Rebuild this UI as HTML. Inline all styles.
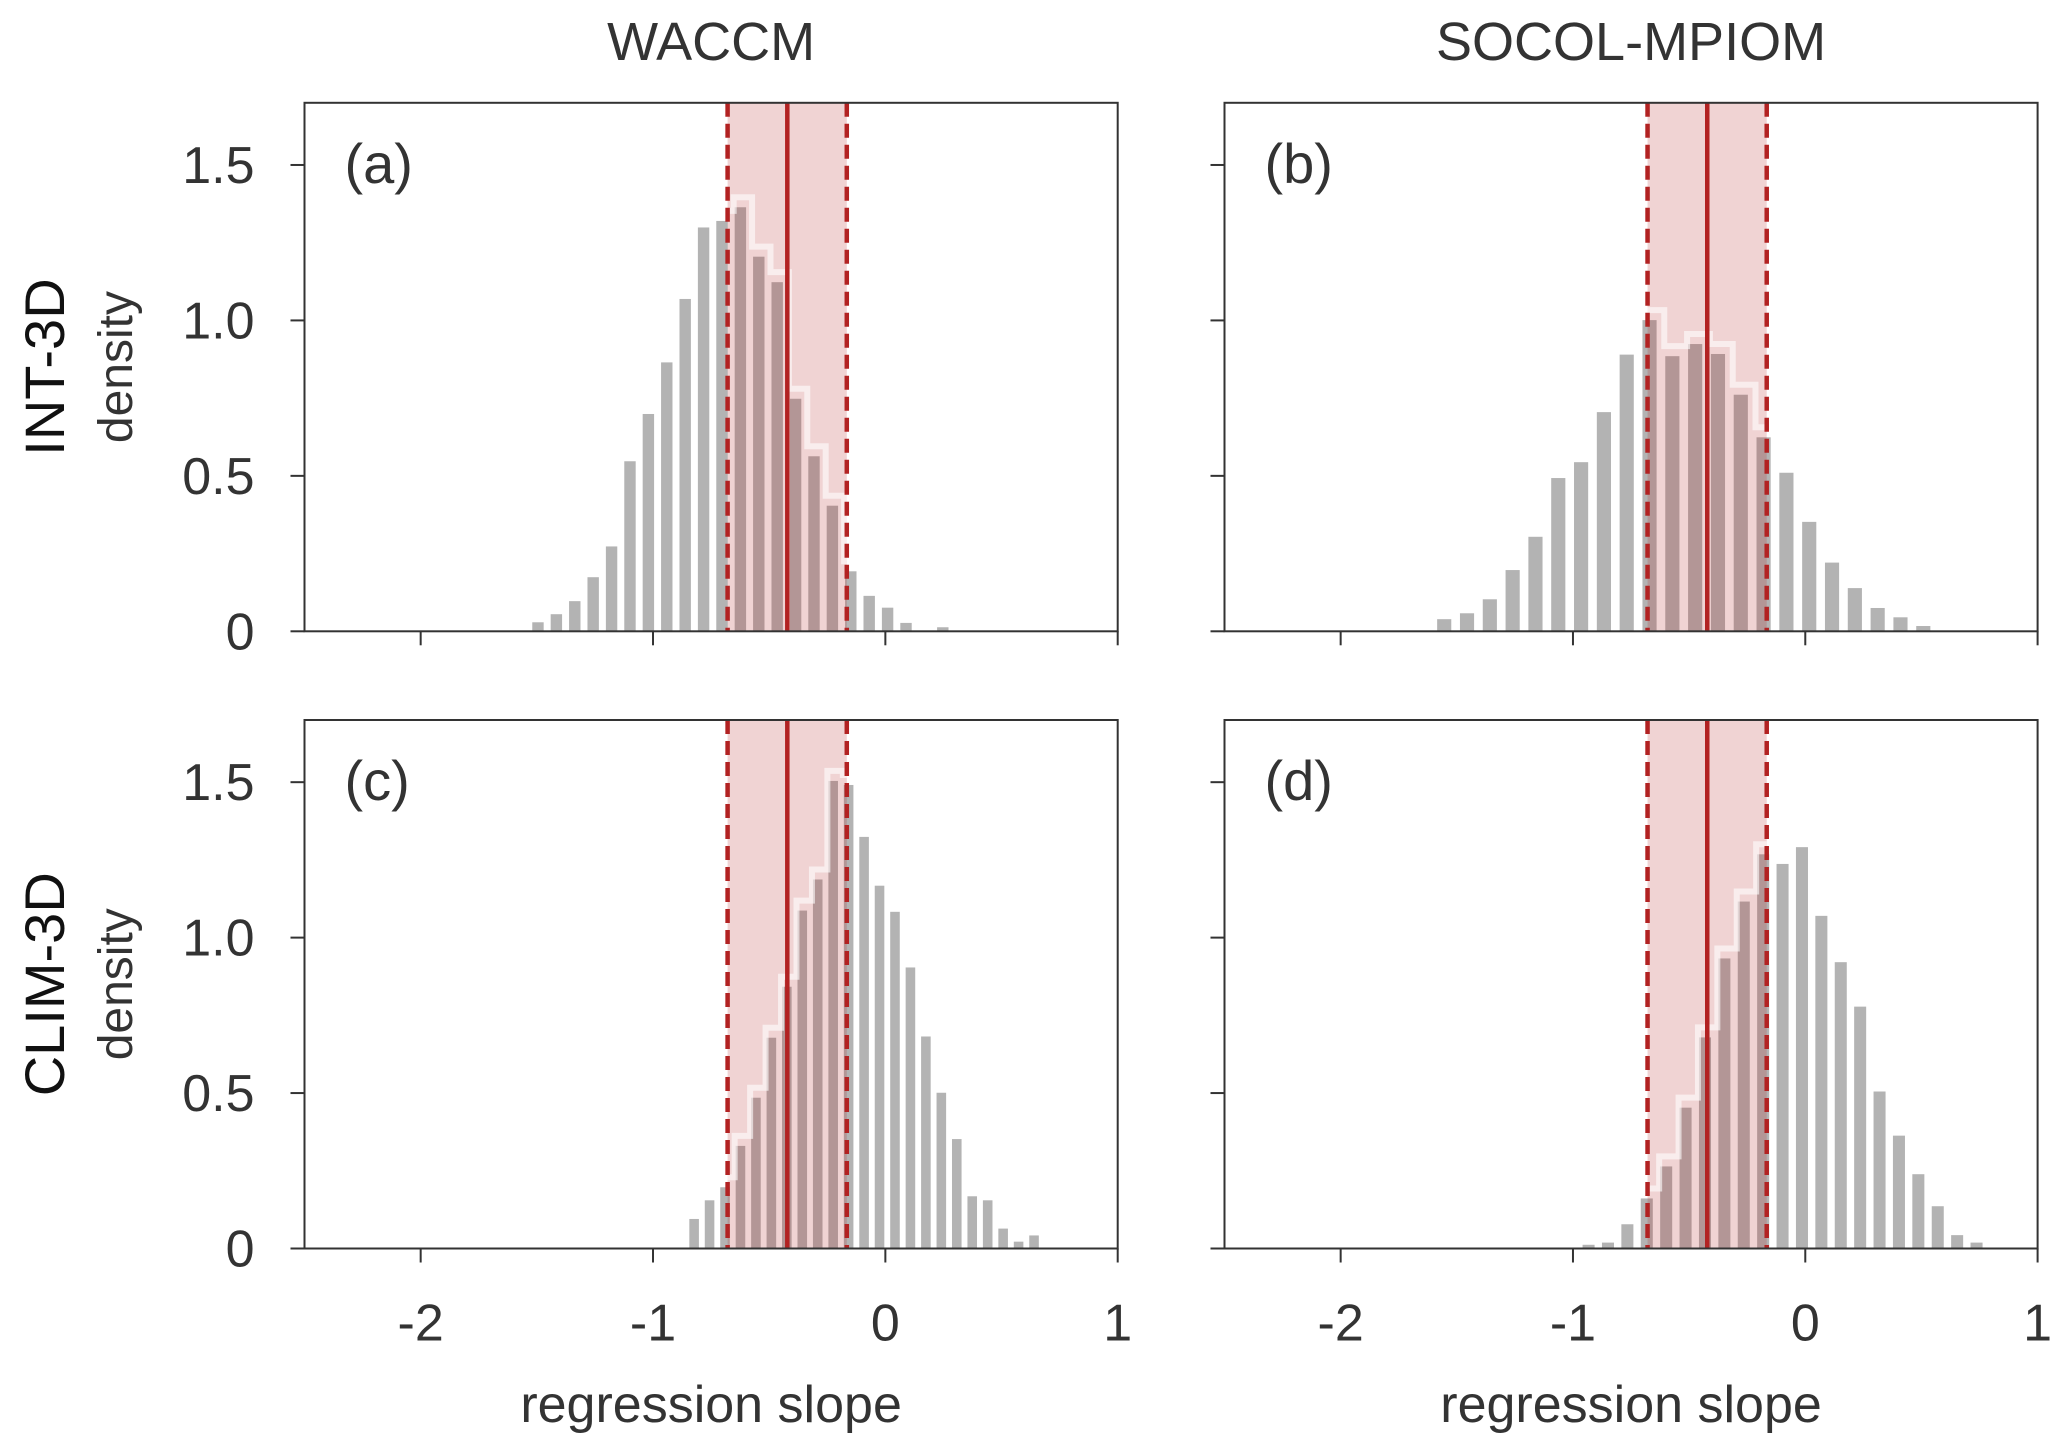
<!DOCTYPE html>
<html><head><meta charset="utf-8">
<style>
html,body{margin:0;padding:0;background:#fff;}
svg{display:block;font-family:"Liberation Sans","DejaVu Sans",sans-serif;}
</style></head>
<body>
<svg id="fig" width="2067" height="1451" viewBox="0 0 2067 1451" xmlns="http://www.w3.org/2000/svg"></svg>
<script>
// ---- data ----
const panelNames = ["a","b","c","d"];
const binStartA = -1.524, binWidthA = 0.0792;
const densA = [0.029,0.055,0.097,0.174,0.273,0.547,0.699,0.865,1.069,1.299,1.320,1.364,1.205,1.123,0.748,0.563,0.404,0.193,0.114,0.076,0.027,0,0.013];
const binStartB = -1.589, binWidthB = 0.0982;
const densB = [0.039,0.058,0.103,0.197,0.304,0.493,0.544,0.705,0.890,1.001,0.885,0.924,0.892,0.761,0.624,0.510,0.352,0.221,0.139,0.075,0.045,0.017];
const binStartC = -0.848, binWidthC = 0.0665;
const densC = [0.095,0.155,0.197,0.330,0.485,0.678,0.842,1.087,1.187,1.504,1.491,1.324,1.167,1.083,0.904,0.682,0.501,0.352,0.168,0.155,0.064,0.022,0.042];
const binStartD = -0.963, binWidthD = 0.0835;
const densD = [0.012,0.019,0.078,0.161,0.264,0.453,0.679,0.933,1.116,1.268,1.237,1.291,1.070,0.921,0.778,0.505,0.363,0.239,0.136,0.043,0.019];
const obsLow = -0.679, obsMid = -0.422, obsHigh = -0.166;
const xTicks = [-2,-1,0,1];
const xTickLabels = ["-2","-1","0","1"];
const yTicks = [0,0.5,1.0,1.5];
const yTickLabels = ["0","0.5","1.0","1.5"];
const colTitles = ["WACCM","SOCOL-MPIOM"];
const rowTitles = ["INT-3D","CLIM-3D"];

const NS = "http://www.w3.org/2000/svg";
const svg = document.getElementById("fig");
function mk(tag, attrs, parent){ const e=document.createElementNS(NS,tag); for(const k in attrs) e.setAttribute(k,attrs[k]); (parent||svg).appendChild(e); return e; }

const X0=-2.5, X1=1, Y0=0, Y1=1.7;
const cols=[{l:304.5,r:1117.7},{l:1224.5,r:2037.6}];
const rows=[{t:102.8,b:631.3},{t:720,b:1248.5}];
const panels=[
  {id:"a",c:0,r:0,start:binStartA,w:binWidthA,d:densA},
  {id:"b",c:1,r:0,start:binStartB,w:binWidthB,d:densB},
  {id:"c",c:0,r:1,start:binStartC,w:binWidthC,d:densC},
  {id:"d",c:1,r:1,start:binStartD,w:binWidthD,d:densD}
];
const red="#b22222", ink="#333";

panels.forEach(p=>{
  const C=cols[p.c], R=rows[p.r];
  const sx=v=>C.l+(v-X0)/(X1-X0)*(C.r-C.l);
  const sy=v=>R.b-(v-Y0)/(Y1-Y0)*(R.b-R.t);
  const g=mk("g",{});
  
  
  p.d.forEach((v,i)=>{
    if(v<=0) return;
    const x0=p.start+i*p.w;
    const bw=(sx(x0+p.w)-sx(x0))*0.62;
    const r=mk("rect",{x:sx(x0)+1,y:sy(v),width:bw,height:sy(0)-sy(v),fill:"#b3b3b3"},g);
    
    
  });
  const sp=mk("rect",{x:sx(obsLow),y:R.t,width:sx(obsHigh)-sx(obsLow),height:R.b-R.t,fill:red,"fill-opacity":0.2},g);
  
  
  let path="";
  p.d.forEach((v,i)=>{
    const a=p.start+i*p.w, b=a+p.w;
    if(b<obsLow||a>obsHigh) return;
    const xa=sx(Math.max(a,obsLow)), xb=sx(Math.min(b,obsHigh)), yy=sy(v)-10;
    path+=(path?"L":"M")+xa+","+yy+"L"+xb+","+yy;
  });
  const st=mk("path",{d:path,fill:"none",stroke:"#fff","stroke-width":6,"stroke-opacity":0.6},g);
  
  
  [obsLow,obsHigh].forEach((v,k)=>{
    const l=mk("line",{x1:sx(v),x2:sx(v),y1:R.t,y2:R.b,stroke:red,"stroke-width":4.5,"stroke-dasharray":"14,7"},g);
    
    
  });
  const m=mk("line",{x1:sx(obsMid),x2:sx(obsMid),y1:R.t,y2:R.b,stroke:red,"stroke-width":4.5},g);
  
  
  const f=mk("rect",{x:C.l,y:R.t,width:C.r-C.l,height:R.b-R.t,fill:"none",stroke:ink,"stroke-width":2},g);
  
  
  yTicks.forEach((v,i)=>{
    const t=mk("line",{x1:C.l-14,x2:C.l,y1:sy(v),y2:sy(v),stroke:ink,"stroke-width":2},g);
    
    
    if(p.c===0){
      const tx=mk("text",{x:C.l-50,y:sy(v)+18,"text-anchor":"end","font-size":52,fill:ink},g);
      tx.textContent=yTickLabels[i];
      
      
    }
  });
  xTicks.forEach((v,i)=>{
    const t=mk("line",{x1:sx(v),x2:sx(v),y1:R.b,y2:R.b+14,stroke:ink,"stroke-width":2},g);
    
    
    if(p.r===1){
      const tx=mk("text",{x:sx(v),y:R.b+92,"text-anchor":"middle","font-size":52,fill:ink},g);
      tx.textContent=xTickLabels[i];
      
      
    }
  });
  const pl=mk("text",{x:C.l+40,y:R.t+80,"font-size":56,fill:ink},g);
  pl.textContent="("+p.id+")";
  
  
  if(p.r===1){
    const xl=mk("text",{x:(C.l+C.r)/2,y:1422,"text-anchor":"middle","font-size":52,fill:ink},g);
    xl.textContent="regression slope";
    
    
  }
});
colTitles.forEach((t,i)=>{
  const e=mk("text",{x:(cols[i].l+cols[i].r)/2,y:60,"text-anchor":"middle","font-size":54,fill:ink});
  e.textContent=t;
  
  
});
rowTitles.forEach((t,i)=>{
  const cy=(rows[i].t+rows[i].b)/2;
  const e=mk("text",{x:0,y:0,transform:`translate(64,${cy}) rotate(-90)`,"text-anchor":"middle","font-size":56,fill:"#111"});
  e.textContent=t;
  
  
  const d=mk("text",{x:0,y:0,transform:`translate(132,${cy}) rotate(-90)`,"text-anchor":"middle","font-size":48,fill:ink});
  d.textContent="density";
  
  
});
</script>
</body></html>
